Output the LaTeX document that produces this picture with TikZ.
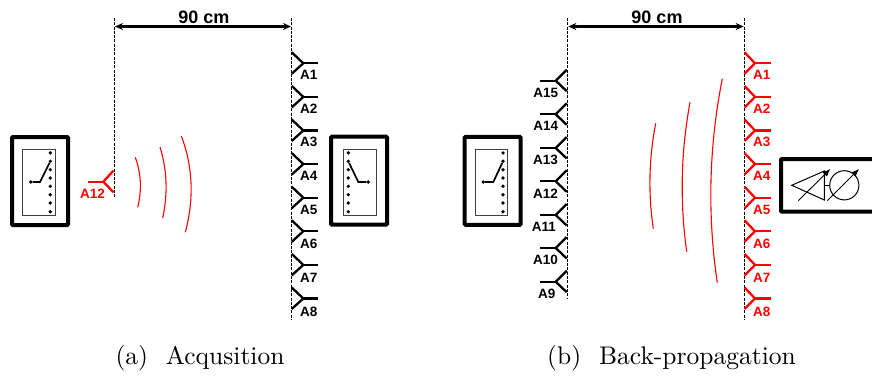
\documentclass[tikz,border=0pt]{standalone}
\usepackage{fontspec}
\usetikzlibrary{arrows.meta,calc}
\newfontfamily\labfont{Liberation Sans}[Scale=1]
\newfontfamily\capfont{lmroman10-regular.otf}
\newcommand{\qwave}[3]{\draw[wave] (#1) .. controls ($(#1)!0.6667!(#2)$) and ($(#3)!0.6667!(#2)$) .. (#3);}
\tikzset{
  x=1pt,y=-1pt,
  devbox/.style={draw=black,line width=4pt,rounded corners=1pt,minimum width=56pt,minimum height=88pt,inner sep=0pt,outer sep=0pt},
  swbox/.style={draw=black!75,line width=0.9pt,minimum width=32.6pt,minimum height=66.4pt,inner sep=0pt,outer sep=0pt},
  swdot/.style={circle,fill=black,minimum size=3.7pt,inner sep=0pt,outer sep=0pt},
  swline/.style={line width=1.7pt,black},
  guide/.style={black,line width=0.8pt,dash pattern=on 3pt off 1.3pt},
  dim/.style={line width=2.3pt,black,{Stealth[length=8pt,width=7pt]}-{Stealth[length=8pt,width=7pt]}},
  ant/.style={line width=2.3pt,line join=miter},
  antlab/.style={font=\labfont\bfseries\fontsize{13.5}{13.5}\selectfont,inner sep=0pt,anchor=east},
  dimlab/.style={font=\labfont\bfseries\fontsize{18}{18}\selectfont,inner sep=0pt},
  wave/.style={red,line width=1.1pt},
  thinl/.style={black,line width=1pt},
  meterarrow/.style={black,line width=0.9pt,-{Latex[length=8pt,width=6pt]}},
  capt/.style={font=\capfont\fontsize{25.5}{28}\selectfont,inner sep=0pt}
}
\begin{document}
\begin{tikzpicture}
\useasboundingbox (0,0) rectangle (872,377);

% ---------- guides and dimensions
\coordinate (aLt) at (114,18); \coordinate (aLb) at (114,198);
\coordinate (aRt) at (291.7,18); \coordinate (aRb) at (291.7,320);
\coordinate (bLt) at (567.3,18); \coordinate (bLb) at (567.3,299);
\coordinate (bRt) at (744,18); \coordinate (bRb) at (744,320);
\draw[guide] (aLt) -- (aLb);
\draw[guide] (aRt) -- (aRb);
\draw[guide] (bLt) -- (bLb);
\draw[guide] (bRt) -- (bRb);
\coordinate (aD1) at (115,26.5); \coordinate (aD2) at (291,26.5);
\coordinate (bD1) at (568.3,26.5); \coordinate (bD2) at (743.7,26.5);
\draw[dim] (aD1) -- (aD2);
\draw[dim] (bD1) -- (bD2);
\node[dimlab] (aDl) at (204,17.5) {90 cm};
\node[dimlab] (bDl) at (657,17.5) {90 cm};

% ---------- antennas, right-hand columns
\foreach \i in {1,...,8}{
  \pgfmathsetmacro{\yy}{63.3+33.6*(\i-1)}
  \pgfmathsetmacro{\ly}{74.5+33.9*(\i-1)}
  \coordinate (aJ\i) at (303.3,\yy);
  \draw[ant,black] (291.7,\yy-11) -- (aJ\i) -- (291.7,\yy+10.5);
  \draw[ant,black] (aJ\i) -- (317.7,\yy);
  \node[antlab,black] (aL\i) at (317.7,\ly) {A\i};
  \coordinate (bJ\i) at (755,\yy);
  \draw[ant,red] (744.5,\yy-11) -- (bJ\i) -- (744.5,\yy+10.5);
  \draw[ant,red] (bJ\i) -- (770.7,\yy);
  \node[antlab,red] (bL\i) at (770.5,\ly) {A\i};
}

% ---------- antennas, left column of (b)
\foreach \n/\yy/\xl in {15/80.7/558.3,14/114.3/558.3,13/148/558,12/181.3/558,11/215/556,10/248/558,9/281.7/555.5}{
  \coordinate (cJ\n) at (555.7,\yy);
  \draw[ant,black] (566.7,\yy-11) -- (cJ\n) -- (566.7,\yy+10.5);
  \draw[ant,black] (cJ\n) -- (540.3,\yy);
  \node[antlab,black] (cL\n) at (\xl,\yy+12) {A\n};
}

% ---------- antenna A12 of (a)
\coordinate (rJ) at (103.3,181.7);
\draw[ant,red] (113.5,170.7) -- (rJ) -- (113.5,192.3);
\draw[ant,red] (rJ) -- (88,181.7);
\node[antlab,red] (rL) at (105,193.7) {A12};

% ---------- switch boxes
\node[devbox] (sw1) at (40,181) {};
\node[swbox] (in1) at (39,182.2) {};
\node[devbox] (sw2) at (359,180.7) {};
\node[swbox] (in2) at (359.8,182.3) {};
\node[devbox] (sw3) at (492.7,180.8) {};
\node[swbox] (in3) at (491.5,182.2) {};
\foreach \nn/\xx in {1/50.3,2/348.3,3/503}{
  \foreach \j/\yy in {1/152.9,2/161.3,3/169.7,4/178,5/186.3,6/194.7,7/203,8/211.7}{
    \node[swdot] (d\nn-\j) at (\xx,\yy) {};
  }
}
\node[swdot] (s1) at (30.7,182) {};
\coordinate (k1) at (40,182);
\draw[swline] (s1) -- (k1) -- (d1-2);
\node[swdot] (s2) at (368.3,182) {};
\coordinate (k2) at (358.3,182);
\draw[swline] (s2) -- (k2) -- (d2-2);
\node[swdot] (s3) at (483.3,182) {};
\coordinate (k3) at (493.3,182);
\draw[swline] (s3) -- (k3) -- (d3-2);

% ---------- analyser box (open on the right, at the picture's edge)
\draw[line width=4pt,black,rounded corners=1pt] (873,159) -- (781,159) -- (781,211.7) -- (873,211.7);
\coordinate (t1) at (791.7,185.3);
\coordinate (t2) at (824.3,171);
\coordinate (t3) at (824.3,200);
\draw[thinl] (t1) -- (t2) -- (t3) -- cycle;
\node[circle,draw=black,line width=1pt,minimum size=29.2pt,inner sep=0pt,outer sep=0pt] (vna) at (844.3,185.3) {};
\draw[thinl] (824.3,185.3) -- (vna.west);
\coordinate (ma1) at (798.3,200.7); \coordinate (ma2) at (830.5,168.8);
\coordinate (mb1) at (827.3,200.7); \coordinate (mb2) at (859.2,168.8);
\draw[meterarrow] (ma1) -- (ma2);
\draw[meterarrow] (mb1) -- (mb2);

% ---------- waves
\qwave{135.3,157.3}{144.1,181.7}{137.7,207.3}
\qwave{160,147}{170.65,181.5}{162.7,218}
\qwave{181.3,136}{198.7,181.85}{185.3,232.3}
\qwave{655.7,123.3}{645.5,176}{653.3,228.7}
\qwave{690,102.3}{676.25,177}{686.7,251.7}
\qwave{722.3,78.7}{702.2,180.7}{717.3,282.7}

% ---------- captions
\node[capt] (capa) at (200,358) {(a)\hspace{0.7em}Acqusition};
\node[capt] (capb) at (671.5,358) {(b)\hspace{0.7em}Back-propagation};
\end{tikzpicture}
\end{document}
